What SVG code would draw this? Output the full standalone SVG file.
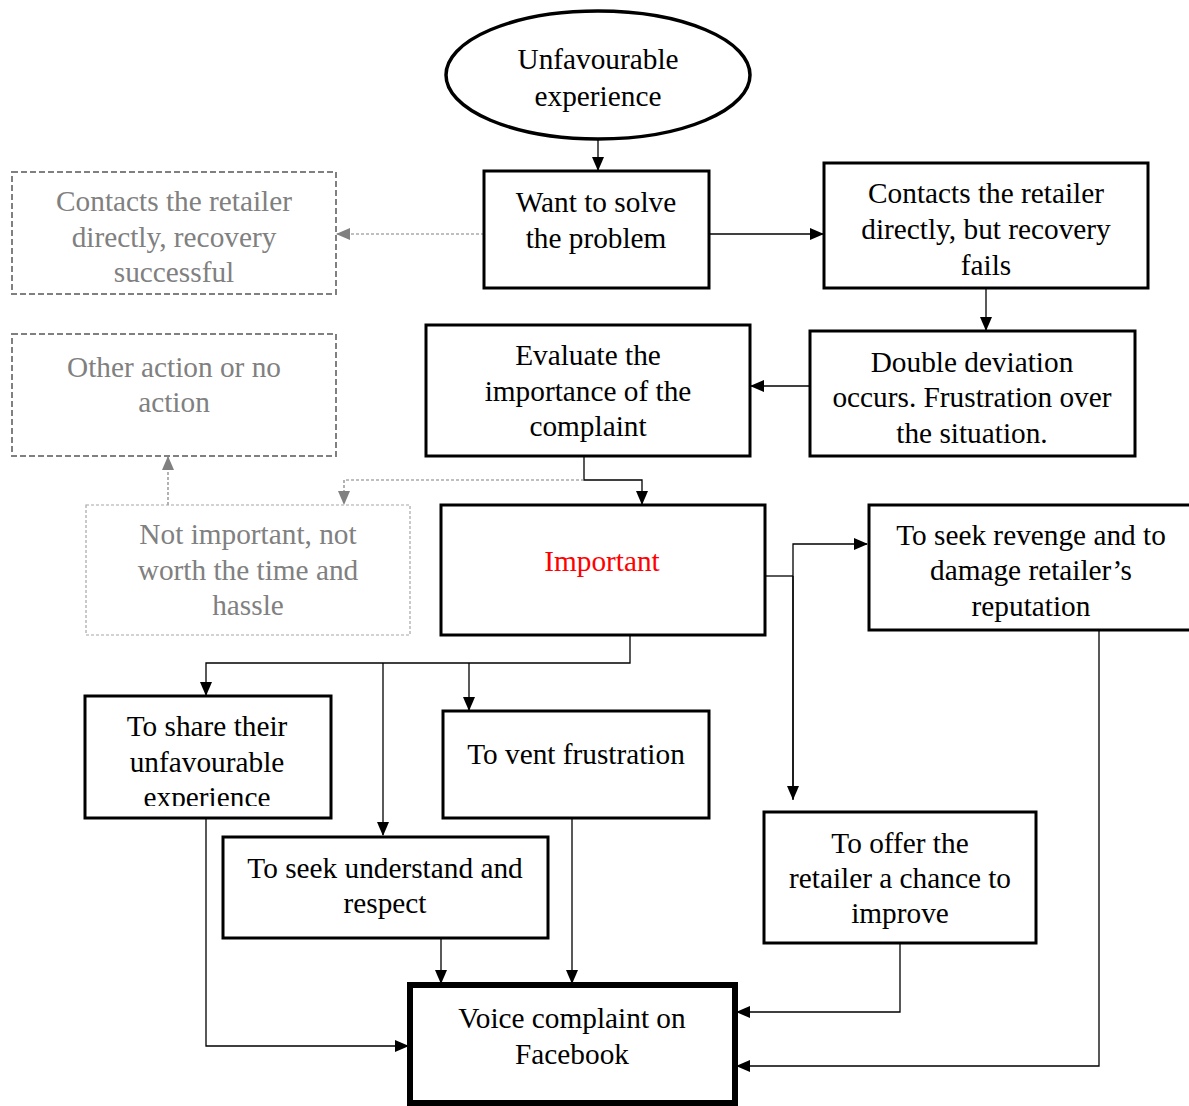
<svg xmlns="http://www.w3.org/2000/svg" width="1189" height="1106" viewBox="0 0 1189 1106" font-family="'Liberation Serif','Times New Roman',serif">
<defs>
<style>
text{font-family:"Liberation Serif","Times New Roman",serif;font-size:29.3px;text-anchor:middle;fill:#000}
.g text{fill:#808080}
.box{fill:#fff;stroke:#000;stroke-width:3}
.dbox{fill:#fff;stroke:#808080;stroke-width:2;stroke-dasharray:6 3}
.lbox{fill:#fff;stroke:#a6a6a6;stroke-width:1.2;stroke-dasharray:3 2}
.c{fill:none;stroke:#000;stroke-width:1.3}
.cg{fill:none;stroke:#808080;stroke-width:1.2;stroke-dasharray:3 2}
</style>
<marker id="ah" markerWidth="14" markerHeight="12" refX="13" refY="6" orient="auto" markerUnits="userSpaceOnUse"><path d="M0,0 L14,6 L0,12 Z" fill="#000"/></marker>
<marker id="ahg" markerWidth="14" markerHeight="12" refX="13" refY="6" orient="auto" markerUnits="userSpaceOnUse"><path d="M0,0 L14,6 L0,12 Z" fill="#808080"/></marker>
<clipPath id="shareclip"><rect x="85" y="696" width="246" height="110"/></clipPath>
</defs>
<rect width="1189" height="1106" fill="#fff"/>
<g id="connectors">
<path class="c" d="M598,140 V170" marker-end="url(#ah)"/>
<path class="cg" d="M484,234 H337" marker-end="url(#ahg)"/>
<path class="c" d="M709,234 H823" marker-end="url(#ah)"/>
<path class="c" d="M986,288 V330" marker-end="url(#ah)"/>
<path class="c" d="M810,386 H751" marker-end="url(#ah)"/>
<path class="c" d="M584,456 V480 H642 V504" marker-end="url(#ah)"/>
<path class="cg" d="M584,480 H344 V504" marker-end="url(#ahg)"/>
<path class="cg" d="M168,505 V457" marker-end="url(#ahg)"/>
<path class="c" d="M765,576 H793"/>
<path class="c" d="M793,800 V544 H867" marker-end="url(#ah)"/>
<path class="c" d="M793,576 V799" marker-end="url(#ah)"/>
<path class="c" d="M630,635 V663 H206 V695" marker-end="url(#ah)"/>
<path class="c" d="M383,663 V835" marker-end="url(#ah)"/>
<path class="c" d="M469,663 V710" marker-end="url(#ah)"/>
<path class="c" d="M206,818 V1046 H408" marker-end="url(#ah)"/>
<path class="c" d="M441,938 V983" marker-end="url(#ah)"/>
<path class="c" d="M572,818 V983" marker-end="url(#ah)"/>
<path class="c" d="M900,943 V1012 H737" marker-end="url(#ah)"/>
<path class="c" d="M1099,630 V1066 H737" marker-end="url(#ah)"/>
</g>
<g id="n-start"><ellipse cx="598" cy="75" rx="152" ry="64" fill="#fff" stroke="#000" stroke-width="3.5"/><text x="598" y="69">Unfavourable</text><text x="598" y="106">experience</text></g>
<g id="n-want"><rect class="box" x="484" y="171" width="225" height="117"/><text x="596" y="212">Want to solve</text><text x="596" y="248">the problem</text></g>
<g id="n-success" class="g"><rect class="dbox" x="12" y="172" width="324" height="122"/><text x="174" y="211">Contacts the retailer</text><text x="174" y="247">directly, recovery</text><text x="174" y="282">successful</text></g>
<g id="n-fails"><rect class="box" x="824" y="163" width="324" height="125"/><text x="986" y="203">Contacts the retailer</text><text x="986" y="239">directly, but recovery</text><text x="986" y="275">fails</text></g>
<g id="n-double"><rect class="box" x="810" y="331" width="325" height="125"/><text x="972" y="372">Double deviation</text><text x="972" y="407">occurs. Frustration over</text><text x="972" y="443">the situation.</text></g>
<g id="n-evaluate"><rect class="box" x="426" y="325" width="324" height="131"/><text x="588" y="365">Evaluate the</text><text x="588" y="401">importance of the</text><text x="588" y="436">complaint</text></g>
<g id="n-other" class="g"><rect class="dbox" x="12" y="334" width="324" height="122"/><text x="174" y="377">Other action or no</text><text x="174" y="412">action</text></g>
<g id="n-notimportant" class="g"><rect class="lbox" x="86" y="505" width="324" height="130"/><text x="248" y="544">Not important, not</text><text x="248" y="580">worth the time and</text><text x="248" y="615">hassle</text></g>
<g id="n-important"><rect class="box" x="441" y="505" width="324" height="130"/><text x="602" y="571" style="fill:#ff0000">Important</text></g>
<g id="n-revenge"><rect class="box" x="869" y="505" width="324" height="125"/><text x="1031" y="545">To seek revenge and to</text><text x="1031" y="580">damage retailer’s</text><text x="1031" y="616">reputation</text></g>
<g id="n-share"><rect class="box" x="85" y="696" width="246" height="122"/><g clip-path="url(#shareclip)"><text x="207" y="736">To share their</text><text x="207" y="772">unfavourable</text><text x="207" y="807">experience</text></g></g>
<g id="n-vent"><rect class="box" x="443" y="711" width="266" height="107"/><text x="576" y="764">To vent frustration</text></g>
<g id="n-seek"><rect class="box" x="223" y="837" width="325" height="101"/><text x="385" y="878">To seek understand and</text><text x="385" y="913">respect</text></g>
<g id="n-offer"><rect class="box" x="764" y="812" width="272" height="131"/><text x="900" y="853">To offer the</text><text x="900" y="888">retailer a chance to</text><text x="900" y="923">improve</text></g>
<g id="n-facebook"><rect x="410" y="985" width="325" height="118" fill="#fff" stroke="#000" stroke-width="6"/><text x="572" y="1028">Voice complaint on</text><text x="572" y="1064">Facebook</text></g>
</svg>
